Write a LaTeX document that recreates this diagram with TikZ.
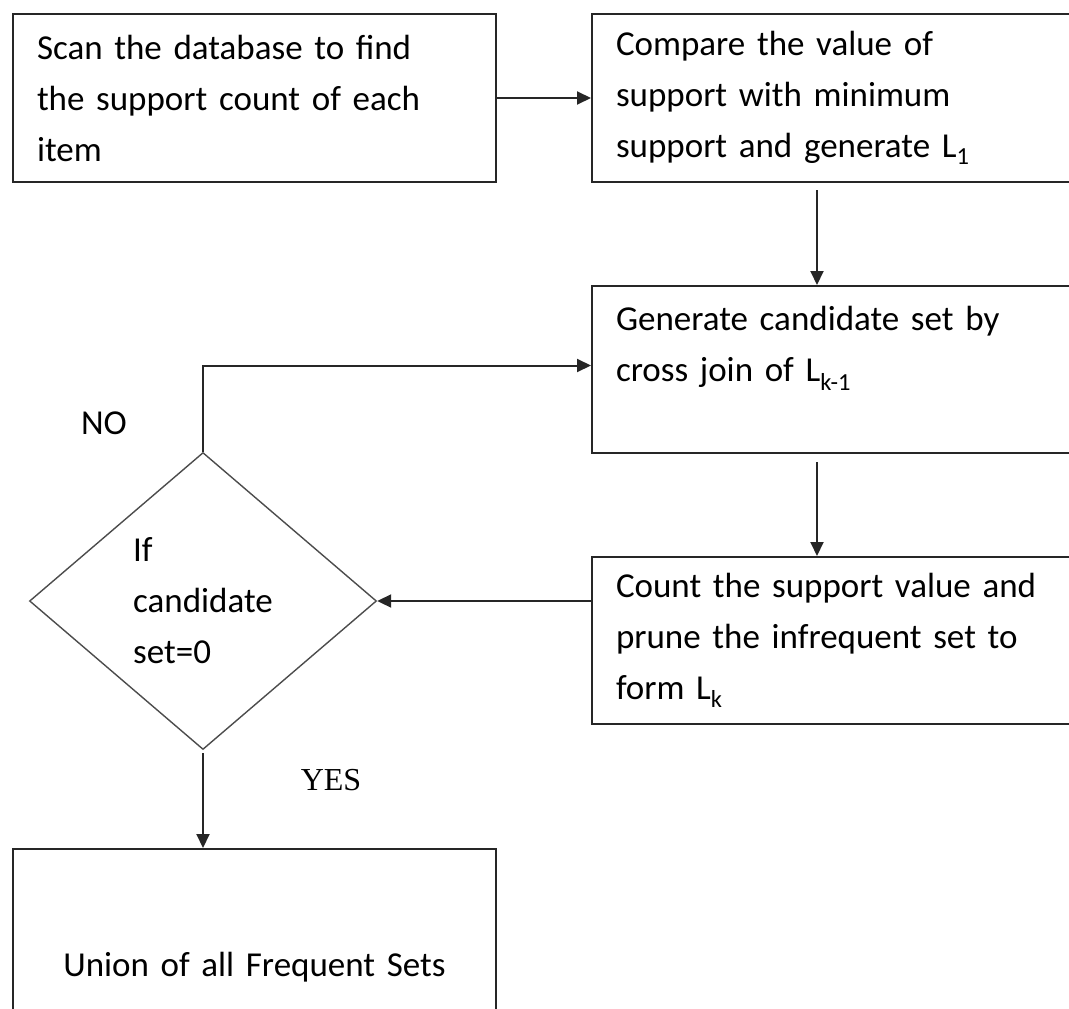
\documentclass[tikz,border=0pt]{standalone}
\usepackage{fontspec}
\setmainfont[WordSpace=0.75]{Carlito}
\newfontfamily\labelserif{Liberation Serif}
\usetikzlibrary{shapes.geometric,arrows.meta}

\begin{document}
\begin{tikzpicture}[x=1pt,y=-1pt,
  stepbox/.style={draw=black!85, line width=2pt, anchor=north west,
    align=left, inner xsep=24pt, inner ysep=0pt,
    font=\fontsize{35}{51}\selectfont},
  decision/.style={diamond, draw=black!70, line width=1.4pt, aspect=1.17,
    inner sep=0pt, minimum width=347pt, minimum height=297pt,
    align=left, font=\fontsize{35}{51}\selectfont},
  flow/.style={draw=black!85, line width=2pt,
    -{Triangle[length=14pt,width=13pt]}},
  tag/.style={font=\fontsize{35}{40}\selectfont}]

\clip (0,0) rectangle (1069,1009);

% process boxes
\node[stepbox, text width=435pt, minimum height=168pt] (scan) at (12,13)
  {Scan the database to find\\the support count of each\\item};
\node[stepbox, text width=452pt, minimum height=168pt] (compare) at (591,13)
  {Compare the value of\\support with minimum\\support and generate L\textsubscript{1}};
\node[stepbox, text width=452pt, minimum height=167pt] (gen) at (591,285)
  {Generate candidate set by\\cross join of L\textsubscript{k-1}\\\mbox{}};
\node[stepbox, text width=452pt, minimum height=167pt] (count) at (591,556)
  {Count the support value and\\prune the infrequent set to\\form L\textsubscript{k}};
\node[stepbox, align=center, text width=435pt, minimum height=236pt] (union) at (12,848)
  {Union of all Frequent Sets};

% decision
\node[decision] (test) at (203,601) {If\\candidate\\set=0};

% branch labels
\node[tag] (no) at (104,423) {NO};
\node[tag, font=\labelserif\fontsize{32}{36}\selectfont] (yes) at (331,780) {YES};

% vertical axis of the right-hand column
\coordinate (axis) at (817,0);

% connectors
\draw[flow] (scan) -- (compare);
\draw[flow] ([yshift=-7pt]compare.south -| axis) -- (gen.north -| axis);
\draw[flow] ([yshift=-8pt]gen.south -| axis) -- (count.north -| axis);
\draw[flow] (count.west |- test.east) -- (test.east);
\draw[flow] (test.north) |- ([yshift=4pt]gen.west);
\draw[flow] ([yshift=-3pt]test.south) -- (test.south |- union.north);
\end{tikzpicture}
\end{document}
